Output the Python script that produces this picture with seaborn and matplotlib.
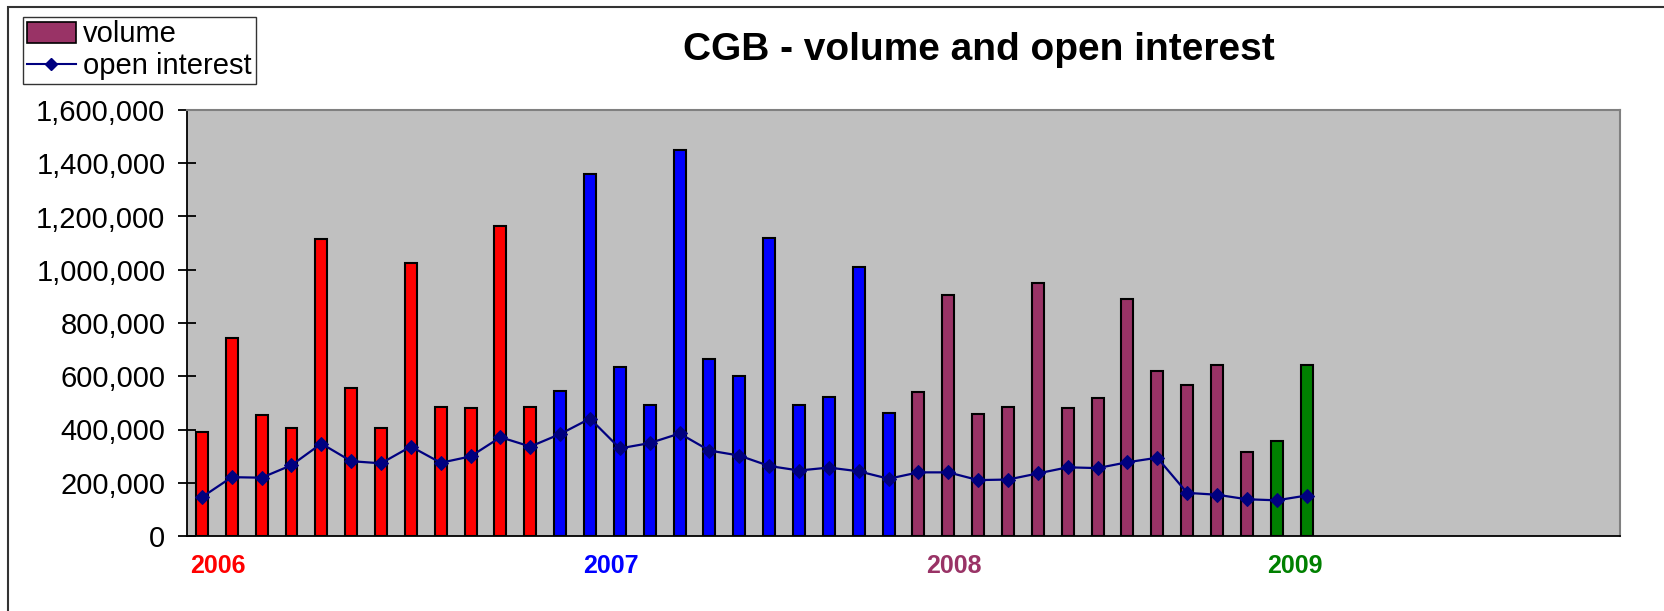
import matplotlib
matplotlib.use("Agg")
import matplotlib.pyplot as plt
import matplotlib.transforms as mtransforms
from matplotlib.patches import Patch, Rectangle
from matplotlib.lines import Line2D
from matplotlib.ticker import FuncFormatter, MultipleLocator
import pandas as pd
import seaborn as sns

# monthly data, Jan 2006 - Feb 2009
years = ["2006", "2007", "2008", "2009"]
months_per_year = [12, 12, 12, 2]
vol_2006 = [391000, 743000, 453000, 405000, 1114000, 555000, 405000, 1026000, 485000, 480000, 1164000, 485000]
vol_2007 = [545000, 1361000, 635000, 492000, 1450000, 663000, 600000, 1119000, 493000, 521000, 1011000, 463000]
vol_2008 = [540000, 907000, 459000, 485000, 951000, 481000, 518000, 890000, 620000, 566000, 644000, 316000]
vol_2009 = [355000, 644000]
open_interest = [146000, 221000, 219000, 266000, 347000, 281000, 273000, 336000, 275000, 299000, 371000, 336000,
                 383000, 441000, 329000, 349000, 385000, 321000, 302000, 263000, 246000, 257000, 243000, 215000,
                 239000, 239000, 210000, 212000, 235000, 258000, 255000, 277000, 294000, 162000, 155000, 138000,
                 134000, 152000]
year_colors = {"2006": "#FF0000", "2007": "#0000FF", "2008": "#993366", "2009": "#008000"}
year_label_pos = [0.55, 13.7, 25.2, 36.6]

all_months = [y + "-%02d" % m for y in years for m in range(1, 13)]
volume = vol_2006 + vol_2007 + vol_2008 + vol_2009
year_col = [y for y, n in zip(years, months_per_year) for _ in range(n)]
df = pd.DataFrame({"month": all_months[:len(volume)], "volume": volume,
                   "year": year_col, "oi": open_interest})
df["pos"] = range(len(df))

plt.rcParams["font.family"] = ["Liberation Sans", "DejaVu Sans"]

fig = plt.figure(figsize=(16.64, 6.11), dpi=100)
ax = fig.add_axes([187 / 1664, 1 - 536 / 611, 1433 / 1664, 426 / 611])
ax.set_facecolor("#C0C0C0")

sns.barplot(data=df, x="month", y="volume", hue="year", palette=year_colors, order=all_months,
            width=0.4, dodge=False, saturation=1, edgecolor="black", linewidth=1.5,
            legend=False, ax=ax)
sns.lineplot(data=df, x="pos", y="oi", color="#000080", linewidth=1.6, marker="D",
             markersize=7, markeredgecolor="#000080", ax=ax)

ax.set_xlim(-0.5, 47.5)
ax.set_ylim(0, 1600000)
ax.yaxis.set_major_locator(MultipleLocator(200000))
ax.yaxis.set_major_formatter(FuncFormatter(lambda v, p: "{:,.0f}".format(v)))
ax.tick_params(axis="y", direction="inout", length=13, width=1.3, labelsize=21, pad=9)
ax.tick_params(axis="x", bottom=False, labelbottom=False)
ax.set_xlabel("")
ax.set_ylabel("")
for side in ["top", "right"]:
    ax.spines[side].set_color("#808080")
    ax.spines[side].set_linewidth(1.5)
for side in ["left", "bottom"]:
    ax.spines[side].set_color("#000000")
    ax.spines[side].set_linewidth(1.3)

# year labels under the bars
trans = mtransforms.blended_transform_factory(ax.transData, fig.transFigure)
for y, xp in zip(years, year_label_pos):
    ax.text(xp, 1 - 566 / 611, y, transform=trans, ha="center", va="center",
            fontsize=18, fontweight="bold", color=year_colors[y])

fig.text(979 / 1664, 1 - 50 / 611, "CGB - volume and open interest", ha="center", va="center",
         fontsize=28, fontweight="bold")

handles = [Patch(facecolor="#993366", edgecolor="black", linewidth=1.2),
           Line2D([], [], color="#000080", marker="D", markersize=6, linewidth=1.5)]
leg = fig.legend(handles, ["volume", "open interest"], loc="upper left",
                 bbox_to_anchor=(23 / 1664, 1 - 17 / 611), fontsize=21, frameon=True,
                 fancybox=False, edgecolor="black", borderpad=0.12, labelspacing=0.12,
                 handlelength=1.7, handletextpad=0.25, borderaxespad=0)
leg.get_frame().set_linewidth(1.0)

# outer chart border (left and top only visible)
fig.add_artist(Rectangle((8 / 1664, -0.5), 2, 1.5 - 7 / 611, transform=fig.transFigure,
                         fill=False, edgecolor="#333333", linewidth=1.5))

fig.savefig("out.png", dpi=100)
